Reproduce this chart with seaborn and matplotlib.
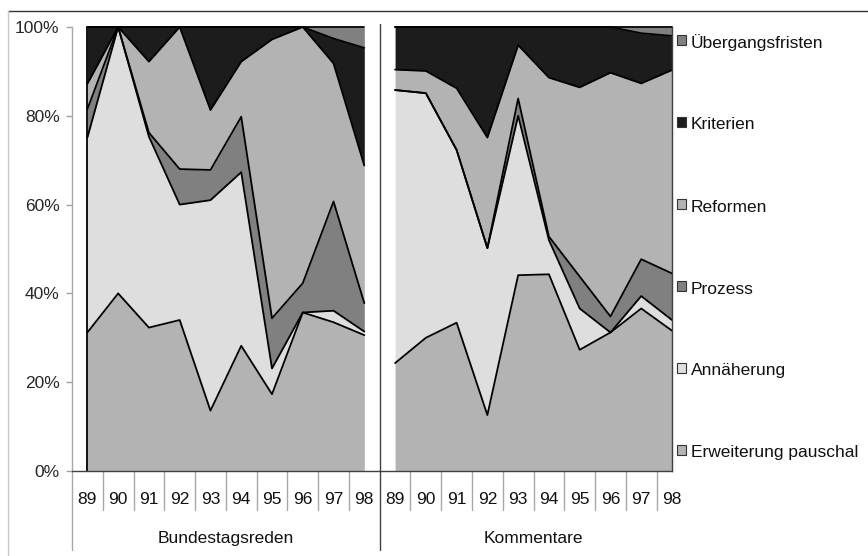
import numpy as np
import pandas as pd
import matplotlib
matplotlib.use('Agg')
import matplotlib.pyplot as plt
from matplotlib.patches import Rectangle
from matplotlib.lines import Line2D
import seaborn as sns

# Daten (Anteile in %)
jahre = ['89', '90', '91', '92', '93', '94', '95', '96', '97', '98']
gruppen = ['Bundestagsreden', 'Kommentare']
kategorien = ['Erweiterung pauschal', 'Annäherung', 'Prozess', 'Reformen', 'Kriterien', 'Übergangsfristen']
farben = ['#b3b3b3', '#dedede', '#808080', '#b3b3b3', '#1c1c1c', '#808080']

bt_erweiterung = [31.2, 40.0, 32.3, 34.0, 13.6, 28.2, 17.3, 35.7, 33.5, 30.6]
bt_annaeherung = [43.9, 60.0, 43.0, 26.0, 47.4, 39.1, 5.8, 0.0, 2.6, 0.8]
bt_prozess = [6.4, 0.0, 0.9, 8.0, 6.8, 12.5, 11.3, 6.6, 24.6, 6.4]
bt_reformen = [5.7, 0.0, 16.0, 32.0, 13.5, 12.4, 62.8, 57.7, 31.1, 31.0]
bt_kriterien = [12.8, 0.0, 7.8, 0.0, 18.7, 7.8, 2.8, 0.0, 5.6, 26.5]
bt_uebergang = [0.0, 0.0, 0.0, 0.0, 0.0, 0.0, 0.0, 0.0, 2.6, 4.7]

ko_erweiterung = [24.3, 30.0, 33.4, 12.6, 44.1, 44.3, 27.3, 31.2, 36.6, 31.6]
ko_annaeherung = [61.5, 55.1, 38.9, 37.6, 35.9, 7.7, 9.3, 0.0, 2.8, 2.4]
ko_prozess = [0.0, 0.0, 0.0, 0.0, 3.9, 0.8, 7.2, 3.6, 8.3, 10.5]
ko_reformen = [4.6, 5.0, 13.9, 24.9, 12.0, 35.8, 42.6, 54.9, 39.6, 45.8]
ko_kriterien = [9.6, 9.9, 13.8, 24.9, 4.1, 11.4, 13.6, 10.3, 11.3, 7.7]
ko_uebergang = [0.0, 0.0, 0.0, 0.0, 0.0, 0.0, 0.0, 0.0, 1.4, 2.0]

bundestag = [bt_erweiterung, bt_annaeherung, bt_prozess, bt_reformen, bt_kriterien, bt_uebergang]
kommentare = [ko_erweiterung, ko_annaeherung, ko_prozess, ko_reformen, ko_kriterien, ko_uebergang]

sns.set_theme(style='white')
plt.rcParams['font.family'] = ['Liberation Sans', 'DejaVu Sans']
plt.rcParams['text.color'] = '#111111'
FS = 12.5

W, H = 868, 556
fig = plt.figure(figsize=(W / 100, H / 100), dpi=100)
ax = fig.add_axes([72 / W, 85 / H, 600 / W, 444 / H])

for g, daten in enumerate([bundestag, kommentare]):
    df = pd.DataFrame(np.array(daten).T, columns=kategorien)
    anteile = df.div(df.sum(axis=1), axis=0) * 100
    x = np.arange(len(jahre)) + g * len(jahre)
    ax.stackplot(x, anteile.T.values, colors=farben, linewidth=0)
    kum = anteile.cumsum(axis=1)
    for k in kategorien:
        ax.plot(x, kum[k].values, color='black', lw=1.3, clip_on=False)
    if g == 0:
        ax.plot([x[0], x[0]], [0, 100], color='black', lw=1.3)

ax.set_xlim(-0.5, 19)
ax.set_ylim(0, 100)
ax.set_xticks([])
ax.set_yticks([0, 20, 40, 60, 80, 100])
ax.set_yticklabels([f'{v}%' for v in [0, 20, 40, 60, 80, 100]])
ax.tick_params(axis='y', left=True, length=4, width=1, color='#a0a0a0', pad=5, labelsize=FS)

ax.spines['top'].set_visible(False)
ax.spines['left'].set_color('#a8a8a8')
ax.spines['bottom'].set_color('#404040')
ax.spines['right'].set_color('#404040')
for s in ['left', 'bottom', 'right']:
    ax.spines[s].set_linewidth(1)

# Kategorienachse mit Gruppen
trans = ax.get_xaxis_transform()
for i, label in enumerate(jahre * 2):
    ax.text(i, -0.065, label, ha='center', va='center', transform=trans, fontsize=FS)
for k in range(1, 20):
    if k == 10:
        ax.plot([k - 0.5, k - 0.5], [1.007, -0.178], color='#404040', lw=1, transform=trans, clip_on=False)
    else:
        ax.plot([k - 0.5, k - 0.5], [0, -0.088], color='#a8a8a8', lw=1, transform=trans, clip_on=False)
ax.plot([-0.5, -0.5], [0, -0.178], color='#a8a8a8', lw=1, transform=trans, clip_on=False)
for g, name in enumerate(gruppen):
    ax.text(4.5 + 10 * g, -0.151, name, ha='center', va='center', transform=trans, fontsize=FS)

# Rahmenlinien
fig.add_artist(Line2D([8 / W, 1], [1 - 11 / H, 1 - 11 / H], color='#333333', lw=1))
fig.add_artist(Line2D([8 / W, 8 / W], [0, 1 - 11 / H], color='#c8c8c8', lw=1))

# Legende
for i, (kat, farbe) in enumerate(zip(kategorien[::-1], farben[::-1])):
    y_px = 43 + 82 * i
    fig.add_artist(Rectangle((677 / W, 1 - (y_px + 2) / H), 9 / W, 10 / H,
                             facecolor=farbe, edgecolor='#333333', lw=0.8,
                             transform=fig.transFigure))
    fig.text(691 / W, 1 - y_px / H, kat, va='center', fontsize=FS)

fig.savefig('out.png', dpi=100)
